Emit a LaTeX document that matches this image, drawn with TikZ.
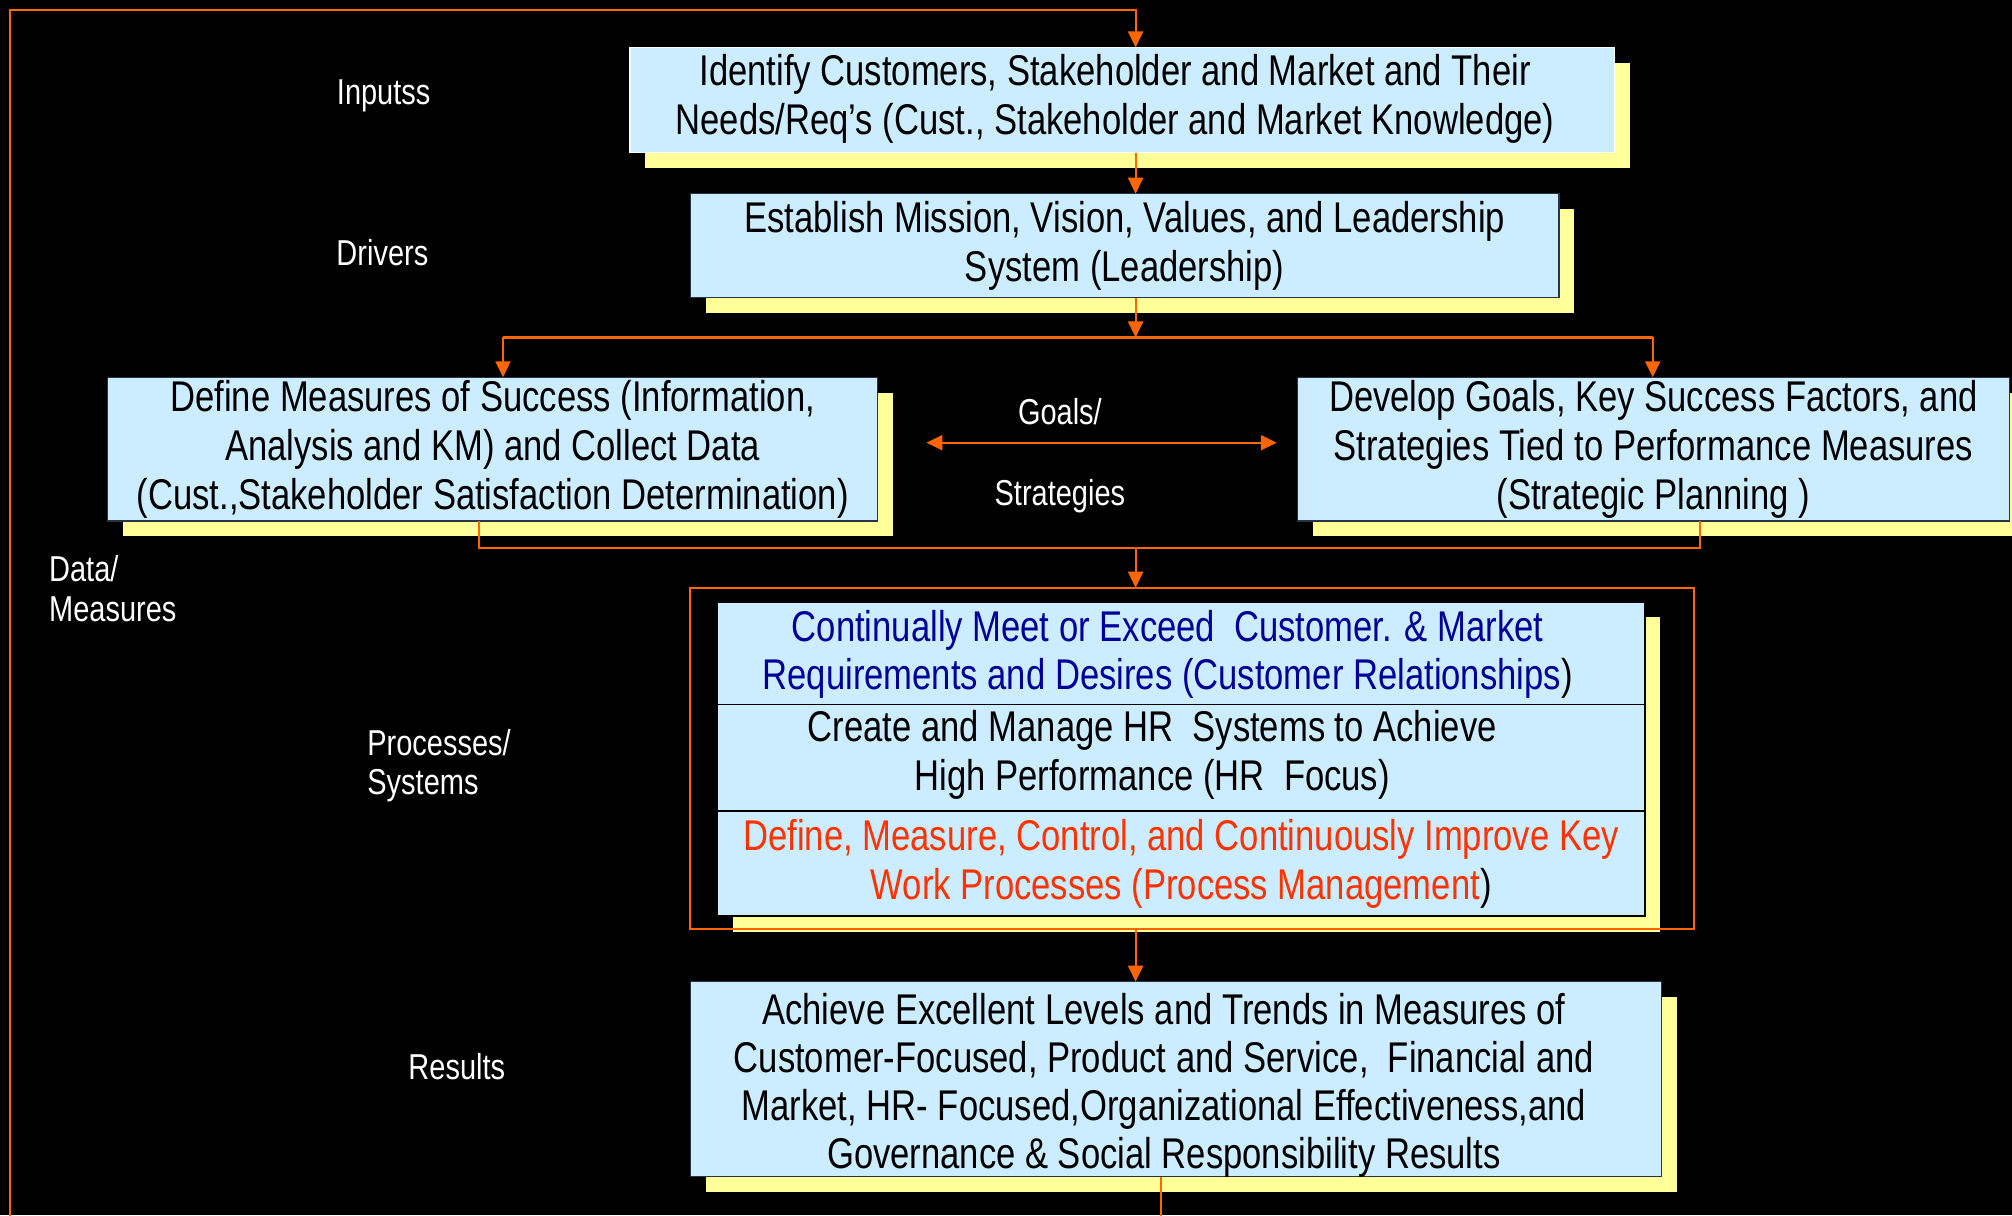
\documentclass[tikz,border=0pt]{standalone}
\usepackage{fontspec}
\setmainfont{Liberation Sans}[FakeStretch=0.805]
\usetikzlibrary{arrows.meta,shadows}
\definecolor{orng}{HTML}{FF6600}
\definecolor{boxc}{HTML}{CCECFF}
\definecolor{shad}{HTML}{FFFF99}
\definecolor{bluet}{HTML}{000099}
\definecolor{redt}{HTML}{FF3300}
\definecolor{edge}{HTML}{2A3440}
\tikzset{
  box/.style={fill=boxc, draw=edge, line width=0.7pt, inner sep=0pt, outer sep=0pt,
    align=center, font=\fontsize{21.5}{24.4}\selectfont, text=black,
    general shadow={fill=shad, shadow xshift=7.7pt, shadow yshift=-7.7pt}},
  txt/.style={inner sep=0pt, align=center, font=\fontsize{21.5}{24.4}\selectfont, text=black},
  row/.style={fill=boxc, draw=black, line width=0.9pt, inner sep=0pt, outer sep=0pt,
    align=center, font=\fontsize{21.5}{24.4}\selectfont, text=black,
    minimum width=463.8pt},
  lbl/.style={text=white, font=\fontsize{18}{20.5}\selectfont, inner sep=0pt, align=left},
  link/.style={draw=orng, line width=1.1pt},
  arr/.style={link, -{Triangle[width=7.5pt,length=8pt]}},
}
\begin{document}
\begin{tikzpicture}[x=0.6415pt, y=-0.6415pt]
\useasboundingbox (0,0) rectangle (1568,947);
\fill[black] (0,0) rectangle (1568,947);
\clip (0,0) rectangle (1568,947);

% main boxes
\node[box, draw=white, minimum width=492.0pt, minimum height=52.6pt] (b1) at (874.5,78) {};
\node[txt] (b1t) at (869,77)
  {Identify Customers, Stakeholder and Market and Their\\Needs/Req’s (Cust., Stakeholder and Market Knowledge)};
\node[box, minimum width=434.3pt, minimum height=52.0pt] (b2) at (876.5,191.5)
  {Establish Mission, Vision, Values, and Leadership\\System (Leadership)};
\node[box, minimum width=384.9pt, minimum height=71.8pt] (b3) at (384,350)
  {Define Measures of Success (Information,\\Analysis and KM) and Collect Data\\(Cust.,Stakeholder Satisfaction Determination)};
\node[box, minimum width=356.0pt, minimum height=71.8pt] (b4) at (1288.5,350)
  {Develop Goals, Key Success Factors, and\\Strategies Tied to Performance Measures\\(Strategic Planning )};

% process stack
\fill[shad] (571,481) rectangle (1294,726);
\node[draw=orng, line width=1.1pt, minimum width=501.7pt, minimum height=170.6pt, inner sep=0pt, outer sep=0pt] (cont) at (929,591) {};
\node[row, minimum height=51.3pt] (r1) at (920.5,509) {};
\node[txt] (r1t) at (910,510)
  {\textcolor{bluet}{Continually Meet or Exceed\ \ Customer. \& Market}\\\textcolor{bluet}{Requirements and Desires (Customer Relationships})};
\node[row, minimum height=53.2pt] (r2) at (920.5,590.5) {};
\node[txt] (r2t) at (898,588)
  {Create and Manage HR\ \ Systems to Achieve\\High Performance (HR\ \ Focus)};
\node[row, minimum height=52.6pt] (r3) at (920.5,673)
  {\textcolor{redt}{Define, Measure, Control, and Continuously Improve Key}\\\textcolor{redt}{Work Processes (Process Management})};

\node[box, minimum width=485.6pt, minimum height=97.5pt] (b6) at (916.5,841) {};
\node[txt, font=\fontsize{21.5}{23.9}\selectfont] (b6t) at (907,846)
  {Achieve Excellent Levels and Trends in Measures of\\Customer-Focused, Product and Service,\ \ Financial and\\Market, HR- Focused,Organizational Effectiveness,and\\Governance \& Social Responsibility Results};

% labels
\node[lbl] (lin) at (299,75) {Inputss};
\node[lbl] (ldr) at (298,197) {Drivers};
\node[lbl] (lg) at (826,321) {Goals/};
\node[lbl] (ls) at (826,387) {Strategies};
\node[lbl, anchor=west] (ld) at (38,443) {Data/};
\node[lbl, anchor=west] (lm) at (38,475) {Measures};
\node[lbl, anchor=west] (lp) at (286,579) {Processes/};
\node[lbl, anchor=west] (lsy) at (286,612) {Systems};
\node[lbl] (lr) at (356,831) {Results};

% connectors
\coordinate (sp) at (885,8);
\coordinate (lt) at (8,8);
\coordinate (lb) at (8,970);
\coordinate (fx) at (905,0);
\draw[arr] (b6.south -| fx) |- (lb) -- (lt) -- (sp) -- (sp |- b1.north);
\draw[arr] (sp |- b1.south) -- (sp |- b2.north);
\coordinate (j) at (885,263);
\coordinate (jl) at (392,263);
\coordinate (jr) at (1288,263);
\draw[arr] (sp |- b2.south) -- (j);
\draw[link] (jl) -- (jr);
\draw[arr] (jl) -- (jl |- b3.north);
\draw[arr] (jr) -- (jr |- b4.north);
\coordinate (da) at (722,345);
\coordinate (db) at (995,345);
\draw[link, {Triangle[width=7.5pt,length=8pt]}-{Triangle[width=7.5pt,length=8pt]}] (da) -- (db);
\coordinate (ml) at (373,427);
\coordinate (mr) at (1325,427);
\coordinate (mj) at (885,427);
\draw[link] (ml |- b3.south) -- (ml) -- (mr) -- (mr |- b4.south);
\draw[arr] (mj) -- (mj |- cont.north);
\draw[arr] (sp |- cont.south) -- (sp |- b6.north);
\end{tikzpicture}
\end{document}
